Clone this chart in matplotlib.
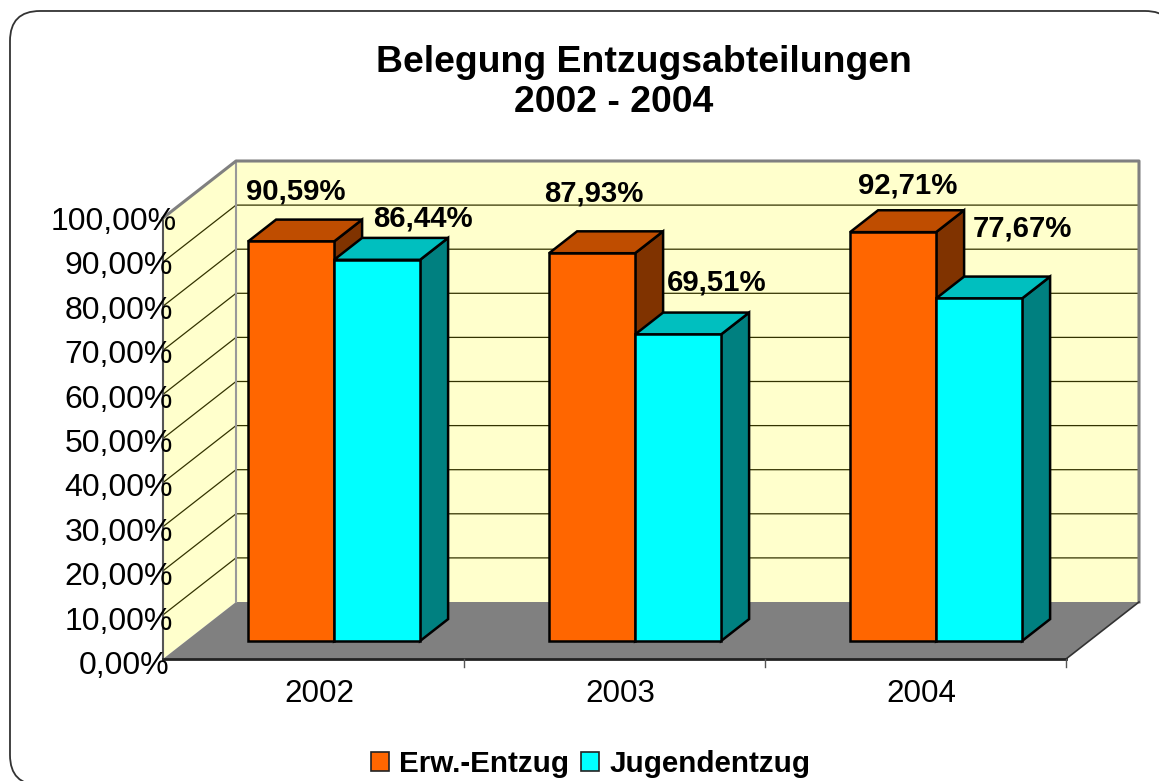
import matplotlib
matplotlib.use('Agg')
import matplotlib.pyplot as plt
from matplotlib.patches import FancyBboxPatch, Patch, Polygon

plt.rcParams['font.family'] = 'Liberation Sans'

years = ['2002', '2003', '2004']
erw_entzug = [90.59, 87.93, 92.71]
jugendentzug = [86.44, 69.51, 77.67]
y_ticks = [0, 10, 20, 30, 40, 50, 60, 70, 80, 90, 100]

PX_X = 301.0   # pixel je Kategorie
PX_Y = 4.41    # pixel je Prozent
X0, Y0 = 163, 659
DEPTH_X = 73 / PX_X
DEPTH_Y = 57 / PX_Y
BAR_LEFT = 0.206
BAR_W = 86 / PX_X
D0, D1 = 0.316, 0.70

def pr(x, y, d=0.0):
    return (x + d * DEPTH_X, y + d * DEPTH_Y)

def poly(ax, pts, color, ec=None, lw=0, z=1):
    ax.add_patch(Polygon(pts, closed=True, fc=color, ec=ec if ec else color, lw=lw, zorder=z, joinstyle='miter'))

def fmt(v):
    return f'{v:.2f}'.replace('.', ',') + '%'

def box(ax, x, w, h, front, top, side, z):
    a, b = x, x + w
    poly(ax, [pr(b, 0, D0), pr(b, 0, D1), pr(b, h, D1), pr(b, h, D0)], side, 'black', 1.8, z)
    poly(ax, [pr(a, h, D0), pr(b, h, D0), pr(b, h, D1), pr(a, h, D1)], top, 'black', 1.8, z)
    poly(ax, [pr(a, 0, D0), pr(b, 0, D0), pr(b, h, D0), pr(a, h, D0)], front, 'black', 1.8, z)

fig = plt.figure(figsize=(11.59, 7.81), dpi=100)
ax = fig.add_axes([0, 0, 1, 1])
ax.set_xlim(-X0 / PX_X, (1159 - X0) / PX_X)
ax.set_ylim((Y0 - 781) / PX_Y, Y0 / PX_Y)
ax.axis('off')

# abgerundeter Rahmen
ax.add_patch(FancyBboxPatch(((10 + 30 - X0) / PX_X, (Y0 - 785 + 30) / PX_Y),
                            (1175 - 10 - 60) / PX_X, (785 - 11 - 60) / PX_Y,
                            boxstyle='round,pad=0.0997,rounding_size=0.0997',
                            mutation_aspect=PX_X / PX_Y, fc='white', ec='#333333', lw=1.3, zorder=0))

# Waende und Boden
n = len(years)
poly(ax, [pr(0, 0, 1), pr(n, 0, 1), pr(n, 100, 1), pr(0, 100, 1)], '#FFFFCC', z=1)
poly(ax, [pr(0, 0, 0), pr(0, 0, 1), pr(0, 100, 1), pr(0, 100, 0)], '#FFFFCC', z=1)
poly(ax, [pr(0, 0, 0), pr(n, 0, 0), pr(n, 0, 1), pr(0, 0, 1)], '#808080', z=1)

for t in y_ticks[1:-1]:
    ax.plot(*zip(pr(0, t, 0), pr(0, t, 1), pr(n, t, 1)), color='#333300', lw=0.9, zorder=2)
ax.plot(*zip(pr(0, 0, 0), pr(0, 100, 0)), color='#555555', lw=1.5, zorder=3)
ax.plot(*zip(pr(0, 100, 0), pr(0, 100, 1), pr(n, 100, 1), pr(n, 0, 1)), color='#808080', lw=2.2, zorder=3)
ax.plot(*zip(pr(0, 0, 1), pr(0, 100, 1)), color='#999999', lw=1.5, zorder=2)
ax.plot(*zip(pr(n, 0, 1), pr(n, 0, 0)), color='#333333', lw=1.2, zorder=3)
ax.plot(*zip(pr(0, 0, 0), pr(n, 0, 0)), color='#222222', lw=2, zorder=3)
for i in range(1, n + 1):
    ax.plot([i, i], [0, -8 / PX_Y], color='#555555', lw=1, zorder=3)

# Balken
for i in range(n):
    box(ax, i + BAR_LEFT, BAR_W, erw_entzug[i], '#FF6600', '#BF4D00', '#803300', 4 + i * 2)
    box(ax, i + BAR_LEFT + BAR_W, BAR_W, jugendentzug[i], '#00FFFF', '#00BFBF', '#008080', 5 + i * 2)

# Datenbeschriftung
erw_off = [(-2, 50), (-5, 60), (8, 47)]
jug_off = [(39, 41), (32, 52), (37, 70)]
for i in range(n):
    x = i + BAR_LEFT
    lx, ly = pr(x + erw_off[i][0] / PX_X, erw_entzug[i] + erw_off[i][1] / PX_Y, D0)
    ax.text(lx, ly, fmt(erw_entzug[i]), fontsize=21.2, fontweight='bold', ha='left', va='center', zorder=20)
    lx, ly = pr(x + BAR_W + jug_off[i][0] / PX_X, jugendentzug[i] + jug_off[i][1] / PX_Y, D0)
    ax.text(lx, ly, fmt(jugendentzug[i]), fontsize=21.2, fontweight='bold', ha='left', va='center', zorder=20)

# Achsenbeschriftung
for t in y_ticks:
    label = fmt(t)
    ax.text((10 + 4 * (len(label) - 6)) / PX_X, t * 1.007 - 7 / PX_Y, label,
            fontsize=23, ha='right', va='center', zorder=20)
for i, y in enumerate(years):
    ax.text(i + 0.52, -35 / PX_Y, y, fontsize=22.6, ha='center', va='center', zorder=20)

ax.text((644 - X0) / PX_X, (Y0 - 63) / PX_Y, 'Belegung Entzugsabteilungen',
        fontsize=26.9, fontweight='bold', ha='center', va='center')
ax.text((614 - X0) / PX_X, (Y0 - 103) / PX_Y, '2002 - 2004',
        fontsize=26.9, fontweight='bold', ha='center', va='center')

handles = [Patch(fc='#FF6600', ec='#222222', lw=1.2), Patch(fc='#00FFFF', ec='#222222', lw=1.2)]
ax.legend(handles, ['Erw.-Entzug', 'Jugendentzug'], ncol=2, frameon=False,
          loc='center', bbox_to_anchor=(590.5 / 1159, 1 - 764 / 781),
          prop={'size': 21.3, 'weight': 'bold'}, handlelength=0.6, handleheight=0.6,
          handletextpad=0.34, columnspacing=0.43)

fig.savefig('out.png', dpi=100)
